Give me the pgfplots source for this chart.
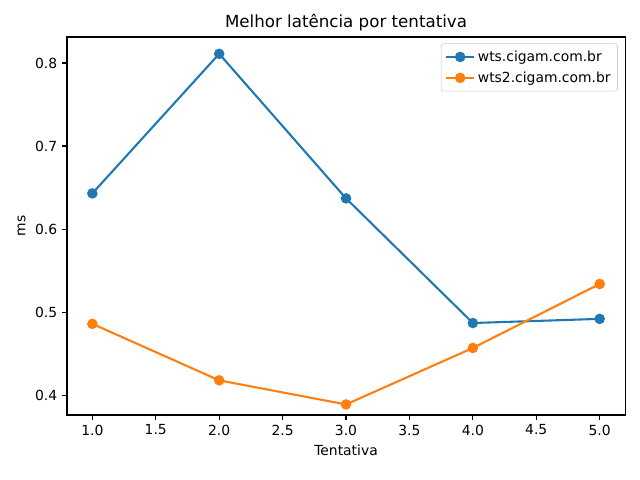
\documentclass[border=0pt]{standalone}
\usepackage{fontspec}
\setmainfont{DejaVu Sans}
\usepackage{pgfplots}
\pgfplotsset{compat=1.18}

\definecolor{c0}{RGB}{31,119,180}
\definecolor{c1}{RGB}{255,127,14}

\begin{document}
\begin{tikzpicture}
\useasboundingbox (-48.24pt,-46.8pt) rectangle (412.56pt,298.8pt);
\begin{axis}[
at={(0pt,0pt)}, anchor=south west,
scale only axis,
width=401.8pt, height=272.2pt,
xmin=0.8, xmax=5.2,
ymin=0.3763, ymax=0.8313,
xtick={1,1.5,2,2.5,3,3.5,4,4.5,5},
ytick={0.4,0.5,0.6,0.7,0.8},
xticklabel style={/pgf/number format/.cd,fixed,fixed zerofill,precision=1},
yticklabel style={/pgf/number format/.cd,fixed,fixed zerofill,precision=1},
/pgf/number format/assume math mode=true,
tick align=outside, tick pos=left,
major tick length=3.5pt,
every tick/.style={black, line width=0.8pt},
axis line style={line width=0.8pt},
ticklabel style={font=\fontsize{10}{12}\selectfont},
label style={font=\fontsize{10}{12}\selectfont},
xlabel={Tentativa}, ylabel={ms},
title={Melhor latência por tentativa},
title style={font=\fontsize{12}{14}\selectfont, yshift=-5pt},
legend cell align=left,
legend image code/.code={
  \draw[mark repeat=2, mark phase=2, #1] plot coordinates {(0pt,0pt) (10pt,0pt) (20pt,0pt)};
},
legend style={font=\fontsize{10}{12}\selectfont, draw=black!20, rounded corners=2pt,
  inner xsep=3pt, inner ysep=3pt, row sep=2pt,
  at={(0.987,0.983)}, anchor=north east},
]
\addplot [c0, line width=1.5pt, mark=*, mark size=3pt, mark options={solid}]
coordinates {(1,0.643) (2,0.811) (3,0.637) (4,0.487) (5,0.492)};
\addlegendentry{wts.cigam.com.br}
\addplot [c1, line width=1.5pt, mark=*, mark size=3pt, mark options={solid}]
coordinates {(1,0.486) (2,0.418) (3,0.389) (4,0.457) (5,0.534)};
\addlegendentry{wts2.cigam.com.br}
\end{axis}
\end{tikzpicture}
\end{document}
